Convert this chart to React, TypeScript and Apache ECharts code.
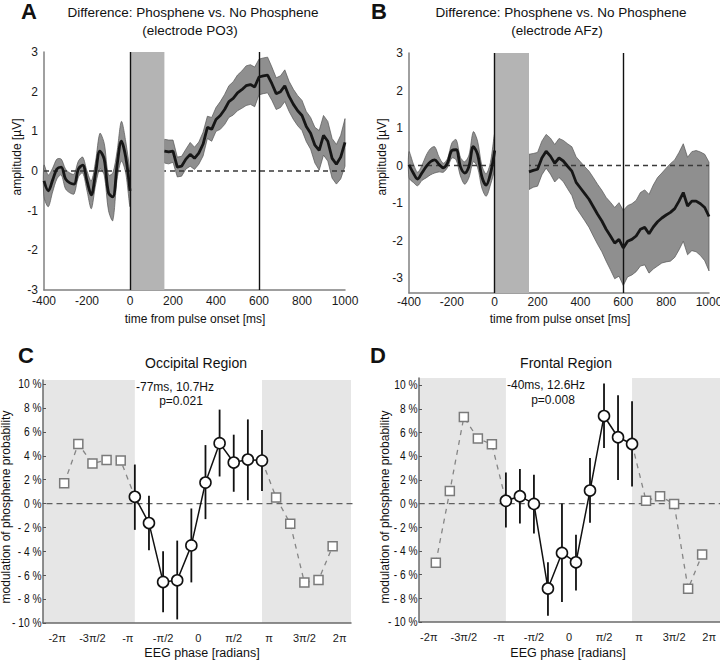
import { useEffect, useRef } from 'react';
import * as echarts from 'echarts';

const FONT = '"Liberation Sans", Arial, Helvetica, sans-serif';

// ---------- Panels A & B : ERP difference waves ----------
const timePre = [-400, -380, -360, -340, -320, -300, -280, -260, -240, -220, -200, -180, -160, -140, -120, -100, -80, -60, -40, -20, 0];
const timePost = [160, 180, 200, 220, 240, 260, 280, 300, 320, 340, 360, 380, 400, 420, 440, 460, 480, 500, 520, 540, 560, 580, 600, 620, 640, 660, 680, 700, 720, 740, 760, 780, 800, 820, 840, 860, 880, 900, 920, 940, 960, 980, 1000];
const timeTickLabels = [-400, -200, 0, 200, 400, 600, 800, 1000];
const ampTicks = [-3, -2, -1, 0, 1, 2, 3];
const stimArtifact = [0, 160];
const markerTimes = [0, 600];

// electrode PO3
const po3MeanPre = [-0.25, -0.5, -0.23, 0.05, 0.1, -0.2, -0.3, -0.33, 0.05, 0.15, -0.25, -0.6, -0.05, 0.5, 0.3, -0.55, -0.65, 0.15, 0.75, 0.35, -0.5];
const po3SemPre = [0.4, 0.4, 0.3, 0.25, 0.2, 0.25, 0.25, 0.25, 0.2, 0.2, 0.25, 0.35, 0.3, 0.45, 0.4, 0.45, 0.6, 0.35, 0.5, 0.4, 0.4];
const po3MeanPost = [0.5, 0.48, 0.5, 0.1, 0.12, 0.3, 0.42, 0.32, 0.45, 0.68,
  1.1, 1.05, 1.3, 1.4, 1.55, 1.75, 1.83, 1.97, 2.05, 2.15,
  2.18, 2.12, 2.37, 2.4, 2.42, 2.2, 1.95, 2.0, 2.15, 1.88,
  1.68, 1.52, 1.4, 1.12, 0.95, 0.65, 0.52, 0.9, 0.75, 0.32,
  0.17, 0.35, 0.72];
const po3SemPost = [0.3, 0.3, 0.28, 0.25, 0.25, 0.25, 0.3, 0.28, 0.28, 0.3,
  0.28, 0.3, 0.3, 0.35, 0.38, 0.4, 0.42, 0.45, 0.47, 0.5,
  0.5, 0.5, 0.45, 0.45, 0.45, 0.42, 0.4, 0.4, 0.4, 0.38,
  0.38, 0.38, 0.38, 0.38, 0.4, 0.45, 0.5, 0.5, 0.5, 0.5,
  0.5, 0.55, 0.6];

// electrode AFz
const afzMeanPre = [0.02, -0.2, -0.36, -0.2, -0.03, 0.1, 0.15, 0.03, -0.06, 0.07, 0.4, 0.42, -0.03, -0.2, -0.02, 0.5, 0.3, -0.3, -0.52, -0.22, 0.4];
const afzSemPre = [0.35, 0.25, 0.18, 0.2, 0.3, 0.35, 0.35, 0.2, 0.12, 0.12, 0.2, 0.27, 0.25, 0.3, 0.3, 0.4, 0.35, 0.3, 0.3, 0.3, 0.45];
const afzMeanPost = [-0.17, -0.13, -0.1, 0.2, 0.38, 0.25, 0.06, 0.2, 0.12, -0.02,
  -0.15, -0.45, -0.6, -0.75, -0.9, -1.1, -1.3, -1.48, -1.7, -1.88,
  -2.07, -1.97, -2.2, -2.02, -1.97, -1.88, -1.7, -1.65, -1.82, -1.64,
  -1.5, -1.4, -1.32, -1.25, -1.15, -0.95, -0.72, -1.08, -0.95, -0.95,
  -1.02, -1.12, -1.36];
const afzSemPost = [0.47, 0.45, 0.45, 0.45, 0.45, 0.48, 0.5, 0.52, 0.55, 0.6,
  0.65, 0.68, 0.7, 0.72, 0.75, 0.78, 0.8, 0.82, 0.85, 0.9,
  0.95, 0.98, 1.0, 0.95, 0.95, 0.95, 0.98, 1.0, 1.05, 1.12,
  1.18, 1.2, 1.25, 1.3, 1.3, 1.3, 1.3, 1.3, 1.32, 1.35,
  1.38, 1.42, 1.45];

// ---------- Panels C & D : phase modulation ----------
const phaseTicks = [-2, -1.5, -1, -0.5, 0, 0.5, 1, 1.5, 2];
const phaseTickLabels = ['-2π', '-3π/2', '-π', '-π/2', '0', 'π/2', 'π', '3π/2', '2π'];
const pctTicks = [-10, -8, -6, -4, -2, 0, 2, 4, 6, 8, 10];
const pctTickLabels = ['- 10 %', '- 8 %', '- 6 %', '- 4 %', '- 2 %', '0 %', '2 %', '4 %', '6 %', '8 %', '10 %'];
const phaseCenter = [-0.9, -0.7, -0.5, -0.3, -0.1, 0.1, 0.3, 0.5, 0.7, 0.9];
const phaseLeft = [-1.9, -1.7, -1.5, -1.3, -1.1];
const phaseRight = [1.1, 1.3, 1.5, 1.7, 1.9];

// Occipital
const occMean = [0.57, -1.63, -6.56, -6.42, -3.5, 1.76, 5.06, 3.44, 3.69, 3.6];
const occLow = [-2.2, -3.9, -9.1, -9.7, -6.6, -1.3, 2.27, 0.99, 0.28, 1.05];
const occHigh = [3.27, 0.65, -4.0, -3.1, -0.41, 4.9, 7.87, 5.77, 7.05, 6.16];
const occLeft = [1.7, 5.0, 3.35, 3.65, 3.6];
const occRight = [0.5, -1.68, -6.6, -6.4, -3.58];

// Frontal
const froMean = [0.23, 0.62, -0.03, -7.17, -4.17, -4.96, 1.1, 7.39, 5.6, 5.03];
const froLow = [-2.02, -1.68, -2.52, -9.47, -8.32, -7.34, -1.62, 4.69, 1.98, 1.44];
const froHigh = [2.63, 2.92, 2.44, -4.96, 0.0, -2.63, 3.85, 10.14, 9.15, 8.64];
const froLeft = [-5.0, 1.05, 7.3, 5.5, 5.0];
const froRight = [0.23, 0.62, -0.03, -7.2, -4.3];

const zip = (xs: number[], ys: number[]) => xs.map((x, i) => [x, ys[i]]);

function bandSeries(gi: number, times: number[], mean: number[], sem: number[], smooth: number | boolean) {
  return {
    type: 'custom',
    coordinateSystem: 'cartesian2d',
    xAxisIndex: gi,
    yAxisIndex: gi,
    z: 2,
    silent: true,
    data: [[times[0], mean[0]]],
    renderItem: (params: any, api: any) => {
      const up = times.map((t, i) => api.coord([t, mean[i] + sem[i]]));
      const lo = times.map((t, i) => api.coord([t, mean[i] - sem[i]])).reverse();
      return {
        type: 'polygon',
        shape: { points: up.concat(lo), smooth },
        style: { fill: '#8f8f8f', stroke: '#555', lineWidth: 0.7 },
      };
    },
  };
}

function erpSeries(gi: number, meanPre: number[], semPre: number[], meanPost: number[], semPost: number[]) {
  return [
    {
      type: 'line', xAxisIndex: gi, yAxisIndex: gi, z: 3, silent: true,
      data: [[timeTickLabels[0], 0], [timeTickLabels[timeTickLabels.length - 1], 0]],
      showSymbol: false,
      lineStyle: { color: '#3a3a3a', width: 1.3, type: [5, 4] },
    },
    bandSeries(gi, timePre, meanPre, semPre, 0.3),
    bandSeries(gi, timePost, meanPost, semPost, false),
    {
      type: 'custom', coordinateSystem: 'cartesian2d', xAxisIndex: gi, yAxisIndex: gi, z: 4, silent: true,
      data: [[stimArtifact[0], 0]],
      renderItem: (params: any, api: any) => {
        const cs = params.coordSys;
        const x0 = api.coord([stimArtifact[0], 0])[0];
        const x1 = api.coord([stimArtifact[1], 0])[0];
        return { type: 'rect', shape: { x: x0, y: cs.y, width: x1 - x0, height: cs.height }, style: { fill: '#b4b4b4' } };
      },
    },
    {
      type: 'line', xAxisIndex: gi, yAxisIndex: gi, z: 5, silent: true,
      data: zip(timePre, meanPre), showSymbol: false, smooth: 0.35,
      lineStyle: { color: '#161616', width: 2.8 },
    },
    {
      type: 'line', xAxisIndex: gi, yAxisIndex: gi, z: 5, silent: true,
      data: zip(timePost, meanPost), showSymbol: false,
      lineStyle: { color: '#161616', width: 2.8 },
      markLine: {
        silent: true, symbol: ['none', 'none'], label: { show: false },
        lineStyle: { color: '#111', width: 1.4, type: 'solid' },
        data: markerTimes.map((t) => ({ xAxis: t })),
      },
    },
  ];
}

function phaseSeries(gi: number, mean: number[], low: number[], high: number[], left: number[], right: number[]) {
  const last = phaseCenter.length - 1;
  return [
    {
      type: 'custom', coordinateSystem: 'cartesian2d', xAxisIndex: gi, yAxisIndex: gi, z: 0, silent: true,
      data: [[0, 0]],
      renderItem: (params: any, api: any) => {
        const cs = params.coordSys;
        const xa = api.coord([phaseCenter[0], 0])[0];
        const xb = api.coord([phaseCenter[last], 0])[0];
        return {
          type: 'group',
          children: [
            { type: 'rect', shape: { x: cs.x, y: cs.y, width: xa - cs.x, height: cs.height }, style: { fill: '#e6e6e6' } },
            { type: 'rect', shape: { x: xb, y: cs.y, width: cs.x + cs.width - xb, height: cs.height }, style: { fill: '#e6e6e6' } },
          ],
        };
      },
    },
    {
      type: 'line', xAxisIndex: gi, yAxisIndex: gi, z: 1, silent: true,
      data: [[-3, 0], [3, 0]], showSymbol: false,
      lineStyle: { color: '#606060', width: 1.2, type: [6, 4] },
    },
    {
      type: 'line', xAxisIndex: gi, yAxisIndex: gi, z: 2, silent: true,
      data: zip(phaseLeft.concat([phaseCenter[0]]), left.concat([mean[0]])), showSymbol: false,
      lineStyle: { color: '#858585', width: 1.3, type: [5, 5] },
    },
    {
      type: 'line', xAxisIndex: gi, yAxisIndex: gi, z: 2, silent: true,
      data: zip([phaseCenter[last]].concat(phaseRight), [mean[last]].concat(right)), showSymbol: false,
      lineStyle: { color: '#858585', width: 1.3, type: [5, 5] },
    },
    {
      type: 'scatter', xAxisIndex: gi, yAxisIndex: gi, z: 3, silent: true,
      data: zip(phaseLeft.concat(phaseRight), left.concat(right)),
      symbol: 'rect', symbolSize: 9,
      itemStyle: { color: '#fff', borderColor: '#7a7a7a', borderWidth: 1.5, opacity: 1 },
    },
    {
      type: 'custom', coordinateSystem: 'cartesian2d', xAxisIndex: gi, yAxisIndex: gi, z: 4, silent: true,
      data: phaseCenter.map((x, i) => [x, low[i], high[i]]),
      encode: { x: 0, y: [1, 2] },
      renderItem: (params: any, api: any) => {
        const x = api.value(0);
        const p1 = api.coord([x, api.value(1)]);
        const p2 = api.coord([x, api.value(2)]);
        return { type: 'line', shape: { x1: p1[0], y1: p1[1], x2: p2[0], y2: p2[1] }, style: { stroke: '#111', lineWidth: 1.8 } };
      },
    },
    {
      type: 'line', xAxisIndex: gi, yAxisIndex: gi, z: 5, silent: true,
      data: zip(phaseCenter, mean),
      symbol: 'circle', symbolSize: 11, showSymbol: true,
      lineStyle: { color: '#111', width: 1.5 },
      itemStyle: { color: '#fff', borderColor: '#111', borderWidth: 1.6 },
    },
  ];
}

const labelStyle = { color: '#1a1a1a', fontFamily: FONT, fontSize: 12 };

function timeAxis(gi: number, margin: number) {
  return {
    type: 'value', gridIndex: gi, min: -400, max: 1000, interval: 200,
    axisLine: { onZero: false, lineStyle: { color: '#808080', width: 1.5 } },
    axisTick: { show: false }, splitLine: { show: false },
    axisLabel: { ...labelStyle, margin, formatter: (v: number) => String(v) },
  };
}
function ampAxis(gi: number, min: number) {
  return {
    type: 'value', gridIndex: gi, min, max: 3,
    axisLine: { show: true, onZero: false, lineStyle: { color: '#808080', width: 1.5 } },
    axisTick: { show: false }, splitLine: { show: false },
    axisLabel: { ...labelStyle, margin: 6, customValues: ampTicks, formatter: (v: number) => String(v) },
  };
}
function phaseAxis(gi: number, min: number, max: number) {
  return {
    type: 'value', gridIndex: gi, min, max,
    axisLine: { onZero: false, lineStyle: { color: '#6a6a6a', width: 1.5 } }, splitLine: { show: false },
    axisTick: { show: false, customValues: phaseTicks },
    axisLabel: {
      ...labelStyle, fontSize: 11, margin: 9, customValues: phaseTicks,
      formatter: (v: number) => phaseTickLabels[phaseTicks.indexOf(Number(v))] ?? '',
    },
  };
}
function pctAxis(gi: number, max: number) {
  return {
    type: 'value', gridIndex: gi, min: -10, max,
    axisLine: { show: true, onZero: false, lineStyle: { color: '#6a6a6a', width: 1.5 } }, splitLine: { show: false },
    axisTick: { show: true, inside: true, length: 3, customValues: pctTicks, lineStyle: { color: '#555', width: 1 } },
    axisLabel: { show: false },
  };
}

function txt(x: number, y: number, text: string, size: number, bold = false, rot = 0, align = 'center', scaleX = 1) {
  return {
    type: 'text', x, y, rotation: rot, scaleX, silent: true, z: 100,
    style: {
      text, fontSize: size, fontFamily: FONT, fontWeight: bold ? 'bold' : 'normal', fill: '#111',
      align, verticalAlign: 'middle', textAlign: align, textVerticalAlign: 'middle',
    },
  };
}

export default function App() {
  const ref = useRef<HTMLDivElement>(null);
  useEffect(() => {
    document.body.style.margin = '0';
    if (!ref.current) return;
    const chart = echarts.init(ref.current, null, { renderer: 'svg' });
    const graphics: any[] = [
      txt(29, 11, 'A', 22, true),
      txt(193, 12, 'Difference: Phosphene vs. No Phosphene', 13.5),
      txt(190, 30, '(electrode PO3)', 13.5),
      txt(379, 11, 'B', 22, true),
      txt(561, 12, 'Difference: Phosphene vs. No Phosphene', 13.5),
      txt(557, 30, '(electrode AFz)', 13.5),
      txt(17, 157, 'amplitude [µV]', 12, false, Math.PI / 2),
      txt(382, 157, 'amplitude [µV]', 12, false, Math.PI / 2),
      txt(195, 319, 'time from pulse onset [ms]', 12),
      txt(560, 319, 'time from pulse onset [ms]', 12),
      txt(26, 355, 'C', 22, true),
      txt(196, 363, 'Occipital Region', 14),
      txt(175, 387, '-77ms, 10.7Hz', 12),
      txt(181, 401, 'p=0.021', 12),
      txt(6, 507, 'modulation of phosphene probability', 12, false, Math.PI / 2),
      txt(202, 653, 'EEG phase [radians]', 12.5),
      txt(378, 355, 'D', 22, true),
      txt(566, 363, 'Frontal Region', 14),
      txt(546, 385, '-40ms, 12.6Hz', 12),
      txt(553, 400, 'p=0.008', 12),
      txt(385, 507, 'modulation of phosphene probability', 12, false, Math.PI / 2),
      txt(568, 653, 'EEG phase [radians]', 12.5),
    ];
    const xMins = [-400, -400, -2.2, -2.14];
    const option: any = {
      animation: false,
      backgroundColor: '#fff',
      grid: [
        { left: 44, top: 52, width: 301, height: 238, outerBoundsMode: 'none' },
        { left: 409, top: 53, width: 300, height: 240, outerBoundsMode: 'none' },
        { left: 43, top: 380, width: 308, height: 243, outerBoundsMode: 'none' },
        { left: 419, top: 378, width: 301, height: 244, outerBoundsMode: 'none' },
      ],
      xAxis: [timeAxis(0, 5), timeAxis(1, 3), phaseAxis(2, xMins[2], 2.16), phaseAxis(3, xMins[3], 2.155)],
      yAxis: [ampAxis(0, -3), ampAxis(1, -3.4), pctAxis(2, 10.35), pctAxis(3, 10.6)],
      series: [
        ...erpSeries(0, po3MeanPre, po3SemPre, po3MeanPost, po3SemPost),
        ...erpSeries(1, afzMeanPre, afzSemPre, afzMeanPost, afzSemPost),
        ...phaseSeries(2, occMean, occLow, occHigh, occLeft, occRight),
        ...phaseSeries(3, froMean, froLow, froHigh, froLeft, froRight),
      ],
      graphic: graphics,
    };
    chart.setOption(option);
    // percent tick labels, positioned through the y-axis scale of panels C and D
    const pctLabels: any[] = [];
    [2, 3].forEach((gi) => {
      pctTicks.forEach((v, i) => {
        const p = chart.convertToPixel({ gridIndex: gi } as any, [xMins[gi], v]) as number[];
        if (p) pctLabels.push(txt(p[0] - 1.5, p[1], pctTickLabels[i], 12, false, 0, 'right', 0.85));
      });
    });
    chart.setOption({ graphic: graphics.concat(pctLabels) });
    return () => chart.dispose();
  }, []);
  return <div ref={ref} style={{ width: 720, height: 661, position: 'absolute', left: 0, top: 0 }} />;
}
